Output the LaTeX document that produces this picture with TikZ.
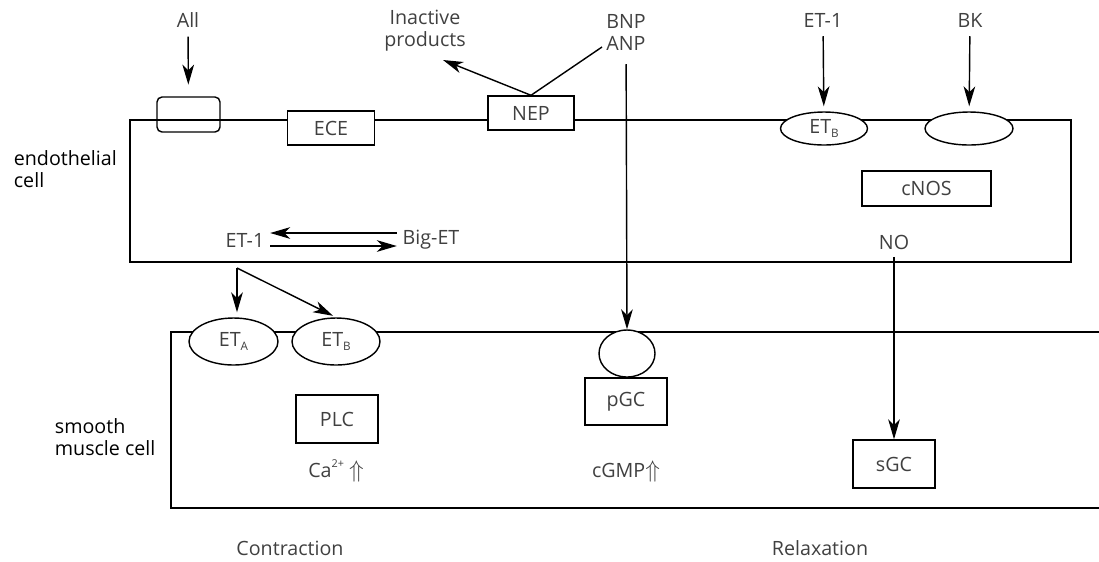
\documentclass[tikz,border=0pt]{standalone}
\usepackage{fontspec}
\setmainfont{Open Sans}
\usetikzlibrary{arrows.meta,shapes.geometric}

\tikzset{
  box/.style={draw, rectangle, fill=white, inner sep=0pt, line width=0.85pt, text=black!75},
  recep/.style={draw, ellipse, fill=white, inner sep=0pt, line width=0.85pt, text=black!75},
  lbl/.style={text=black!75, align=center},
  arr/.style={-{Stealth[length=12pt,width=7pt,inset=3.5pt]}, line width=0.85pt},
}

\newcommand{\bigup}{{\Large$\Uparrow$}}
\newcommand{\sub}[1]{\raisebox{-0.3ex}{\fontsize{7}{8}\selectfont #1}}
\newcommand{\sps}[1]{\raisebox{0.9ex}{\fontsize{6.5}{8}\selectfont #1}}

\begin{document}
\begin{tikzpicture}[x=0.6pt, y=-0.6pt, font=\fontsize{11.8}{13.2}\selectfont]
        \useasboundingbox (0,0) rectangle (1099,561);

        % Cellula endoteliale
        \node[draw, rectangle, line width=0.85pt, minimum width=564.6pt, minimum height=85.2pt, inner sep=0pt] at (600.5, 191) (endo) {};
        \node[align=left, anchor=west] at (8, 169) (endolbl) {endothelial\\cell};

        % Cellula muscolare liscia (aperta a destra)
        \draw[line width=0.85pt] (1099, 332) -- (171, 332) -- (171, 508) -- (1099, 508);
        \node[align=left, anchor=west] at (49, 437) (smclbl) {smooth\\muscle cell};

        % Recettore AII
        \node[draw, rectangle, rounded corners=3pt, line width=0.85pt, minimum width=37.8pt, minimum height=21pt] at (188.5, 114.5) (allrec) {};
        \node[lbl] at (188, 20) (all) {All};

        % ECE e NEP
        \node[box, minimum width=52.2pt, minimum height=20.4pt] at (331, 128) (ece) {ECE};
        \node[box, minimum width=51.6pt, minimum height=20.4pt] at (531, 113) (nep) {NEP};

        % Prodotti inattivi e peptidi natriuretici
        \node[lbl] at (425, 31) (inact) {Inactive\\products};
        \node[lbl] at (626, 32) (bnp) {BNP\\ANP};
        \coordinate (inacttip) at (443, 60);
        \coordinate (bnpend) at (602, 47);

        % Recettori endoteliali
        \node[lbl] at (823, 20) (etone) {ET-1};
        \node[lbl] at (970, 20) (bk) {BK};
        \node[recep, minimum width=52.2pt, minimum height=19.8pt] at (824, 128.5) (etbendo) {ET\sub{B}};
        \node[recep, minimum width=52.8pt, minimum height=19.8pt] at (969, 128.5) (bkrec) {};
        \node[box, minimum width=77.4pt, minimum height=21pt] at (926.5, 188.5) (cnos) {cNOS};
        \node[lbl] at (894, 242) (no) {NO};

        % ET-1 / Big-ET
        \node[lbl] at (245, 240) (etint) {ET-1};
        \node[lbl] at (431, 240) (biget) {Big-ET};

        % Recettori muscolari
        \coordinate (split) at (237, 268);
        \node[recep, minimum width=53.4pt, minimum height=28.2pt] at (233.5, 341.5) (eta) {ET\sub{A}};
        \node[recep, minimum width=52.8pt, minimum height=28.2pt] at (336, 341.5) (etb) {ET\sub{B}};
        \node[box, minimum width=49.2pt, minimum height=28.8pt] at (337, 419) (plc) {PLC};
        \node[lbl] at (336, 471) (ca) {Ca\sps{2+} \bigup};

        \node[recep, minimum width=33.6pt, minimum height=28.2pt] at (627, 353.5) (pgcrec) {};
        \node[box, minimum width=49.2pt, minimum height=28.2pt] at (626, 401.5) (pgc) {pGC};
        \node[lbl] at (626, 471) (cgmp) {cGMP\bigup};

        \node[box, minimum width=49.2pt, minimum height=28.8pt] at (894, 464) (sgc) {sGC};

        % Effetti
        \node[lbl] at (290, 548) (contr) {Contraction};
        \node[lbl] at (820, 548) (relax) {Relaxation};

        % Frecce
        \draw[arr, shorten <=2pt, shorten >=7pt] (all) -- (allrec);
        \draw[arr] (nep.north) -- (inacttip);
        \draw[line width=0.85pt] (nep.north) -- (bnpend);
        \draw[arr, shorten <=5pt] (bnp) -- (pgcrec.north);
        \draw[arr, shorten <=2pt, shorten >=3pt] (etone) -- (etbendo);
        \draw[arr, shorten <=2pt, shorten >=3pt] (bk) -- (bkrec);
        \draw[arr] ([yshift=4.2pt]biget.west) -- ([yshift=4.2pt]etint.east);
        \draw[arr] ([yshift=-3.6pt]etint.east) -- ([yshift=-3.6pt]biget.west);
        \draw[arr, shorten >=3pt] (split) -- (eta.north -| split);
        \draw[arr, shorten >=2pt] (split) -- (etb.north);
        \draw[arr, shorten <=1pt] (no) -- (sgc);
    \end{tikzpicture}
\end{document}
